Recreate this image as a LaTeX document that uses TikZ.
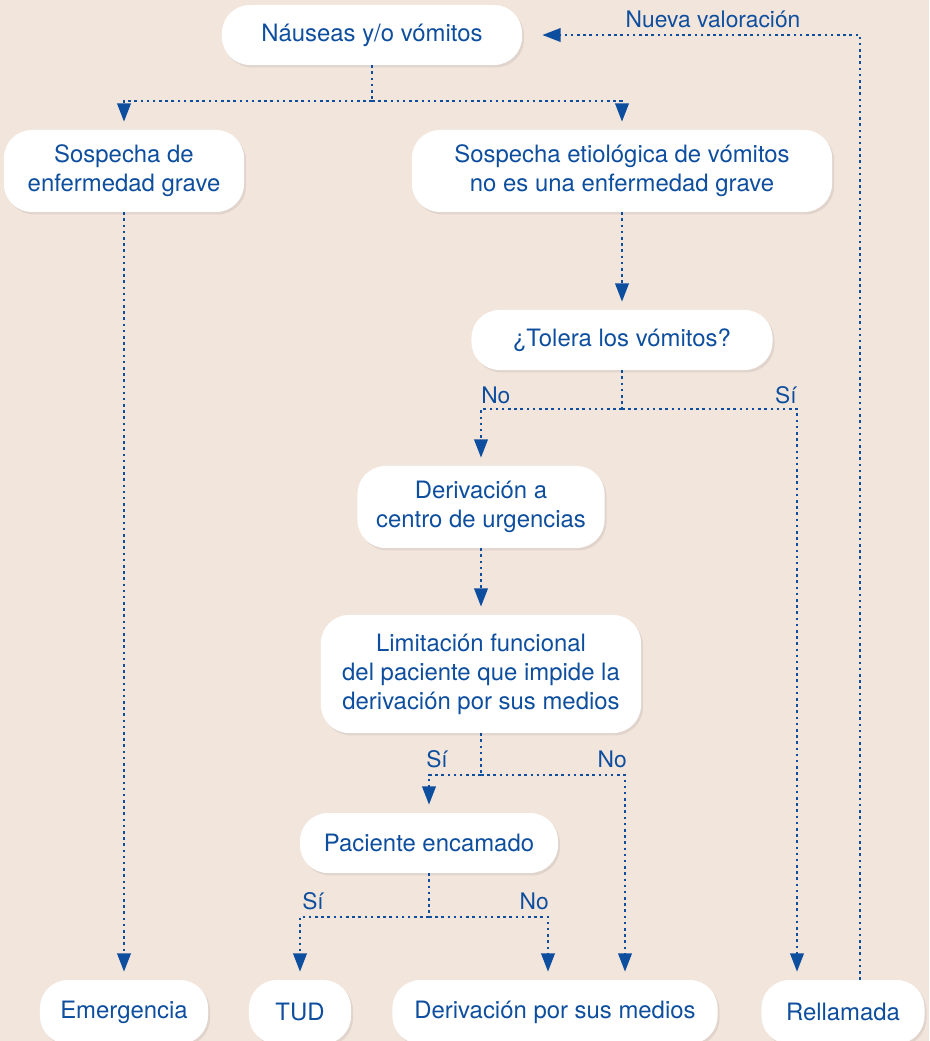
\documentclass[tikz,border=0pt]{standalone}
\usepackage{fontspec}
\setmainfont{TeX Gyre Heros}
\usetikzlibrary{arrows.meta,shadows}
\definecolor{fondo}{RGB}{242,229,220}
\definecolor{azul}{RGB}{14,78,158}
\tikzset{
  caja/.style={rectangle, rounded corners=0.7cm, fill=white, text=azul, align=center, inner sep=0pt,
    font=\fontsize{17}{20.7}\selectfont,
    drop shadow={shadow xshift=0.05cm, shadow yshift=-0.06cm, fill=black, opacity=0.07}},
  flecha/.style={draw=azul, line width=1.8pt, dash pattern=on 1.8pt off 2.6pt, ->, shorten >=0.2cm},
  linea/.style={draw=azul, line width=1.8pt, dash pattern=on 1.8pt off 2.6pt},
  etiq/.style={text=azul, inner sep=0pt, font=\fontsize{16.2}{18}\selectfont}
}
\begin{document}
\begin{tikzpicture}[x=0.025cm, y=-0.025cm, >={Triangle[length=13pt,width=9.5pt]}]
\fill[fondo] (0,0) rectangle (929,1041);
\useasboundingbox (0,0) rectangle (929,1041);
% boxes:
\node (nausea) at (372,35) [caja, minimum width=7.5cm, minimum height=1.5cm] {Náuseas y/o vómitos};
\node (grave) at (124,171) [caja, minimum width=6cm, minimum height=2.05cm] {Sospecha de\\enfermedad grave};
\node (etiol) at (622,171) [caja, minimum width=10.5cm, minimum height=2.05cm] {Sospecha etiológica de vómitos\\no es una enfermedad grave};
\node (tolera) at (622,340) [caja, minimum width=7.525cm, minimum height=1.5cm] {¿Tolera los vómitos?};
\node (deriv) at (481,507) [caja, minimum width=6.175cm, minimum height=2.05cm] {Derivación a\\centro de urgencias};
\node (limit) at (481,674) [caja, minimum width=8cm, minimum height=2.95cm] {Limitación funcional\\del paciente que impide la\\derivación por sus medios};
\node (encam) at (429,843) [caja, minimum width=6.45cm, minimum height=1.5cm] {Paciente encamado};
\node (emerg) at (124,1012) [caja, minimum width=4.2cm, minimum height=1.6cm] {Emergencia};
\node (tud) at (300,1012) [caja, minimum width=2.55cm, minimum height=1.6cm] {TUD};
\node (medios) at (555,1012) [caja, minimum width=8.125cm, minimum height=1.6cm] {Derivación por sus medios};
\node (rellam) at (843,1012) [caja, minimum width=4.075cm, minimum height=1.6cm] {Rellamada};
% branch points:
\coordinate (r1) at (372,101);
\coordinate (r2) at (622,409);
\coordinate (r2b) at (797,409);
\coordinate (r3) at (481,775);
\coordinate (r3b) at (625,775);
\coordinate (r4) at (429,917);
\coordinate (r4b) at (548,917);
\coordinate (r5) at (860,35);
% arrows:
\draw[linea] (nausea) -- (r1);
\draw[flecha] (r1) -| (grave);
\draw[flecha] (r1) -| (etiol);
\draw[flecha] (grave.south) -- (grave.south |- emerg.north);
\draw[flecha] (etiol) -- (tolera);
\draw[linea] (tolera) -- (r2);
\draw[flecha] (r2) -| (deriv);
\draw[flecha] (r2) -- (r2b) -- (r2b |- rellam.north);
\draw[flecha] (deriv) -- (limit);
\draw[linea] (limit) -- (r3);
\draw[flecha] (r3) -| (encam);
\draw[flecha] (r3) -- (r3b) -- (r3b |- medios.north);
\draw[linea] (encam) -- (r4);
\draw[flecha] (r4) -| (tud);
\draw[flecha] (r4) -- (r4b) -- (r4b |- medios.north);
\draw[flecha, shorten >=0.5cm] (r5 |- rellam.north) -- (r5) -- (nausea.east);
% labels:
\node (no1) at (481,403) [etiq, anchor=base west] {No};
\node (si1) at (797,403) [etiq, anchor=base east] {Sí};
\node (si2) at (426,767) [etiq, anchor=base west] {Sí};
\node (no2) at (627,767) [etiq, anchor=base east] {No};
\node (si3) at (302,909) [etiq, anchor=base west] {Sí};
\node (no3) at (549,909) [etiq, anchor=base east] {No};
\node (nueva) at (713,27) [etiq, anchor=base] {Nueva valoración};
\end{tikzpicture}
\end{document}
